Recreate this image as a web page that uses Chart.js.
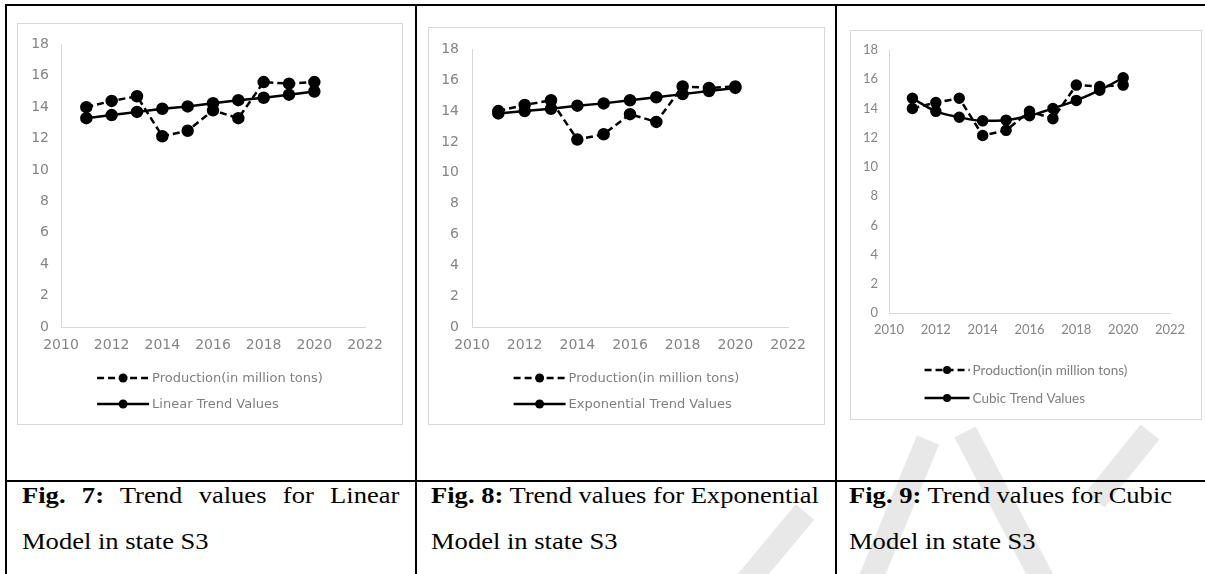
<!DOCTYPE html>
<html>
<head>
<meta charset="utf-8">
<script src="https://cdn.jsdelivr.net/npm/chart.js@4.4.1/dist/chart.umd.min.js"></script>
<style>
  body { margin: 0; background: #fff; width: 1205px; height: 574px; overflow: hidden; position: relative; }
  .rule { position: absolute; background: #000; }
  .frame { position: absolute; border: 1px solid #d9d9d9; box-sizing: border-box; background: #fff; }
  .frame canvas { display: block; }
  .cap { position: absolute; font-family: "Liberation Serif", "Times New Roman", serif; font-size: 23.5px;
         line-height: 23.5px; color: #000; white-space: nowrap; transform-origin: 0 0; transform: scaleX(1.13); }
  .just { text-align: justify; text-align-last: justify; }
  #mark { position: absolute; left: 0; top: 0; }
</style>
</head>
<body>

<!-- marca de agua gris (aproximada) -->
<svg id="mark" width="1205" height="574">
  <g stroke="#e8e8e8" stroke-width="24" fill="none">
    <line x1="740" y1="590" x2="805" y2="512"/>
    <line x1="866" y1="590" x2="928" y2="440"/>
    <line x1="965" y1="432" x2="1048" y2="590"/>
    <line x1="1095" y1="500" x2="1150" y2="432"/>
  </g>
</svg>

<!-- table rules -->
<div class="rule" style="left:5px; top:4px; width:1200px; height:2px;"></div>
<div class="rule" style="left:5px; top:4px; width:2px; height:570px;"></div>
<div class="rule" style="left:415px; top:4px; width:2px; height:570px;"></div>
<div class="rule" style="left:835px; top:4px; width:2px; height:570px;"></div>
<div class="rule" style="left:5px; top:480px; width:1200px; height:2px;"></div>

<div class="frame" style="left:17px; top:23px; width:386px; height:402px;"><canvas id="c1" width="384" height="400"></canvas></div>
<div class="frame" style="left:428px; top:27px; width:397px; height:398px;"><canvas id="c2" width="395" height="396"></canvas></div>
<div class="frame" style="left:850px; top:30px; width:352px; height:390px;"><canvas id="c3" width="350" height="388"></canvas></div>

<div class="cap just" style="left:22px; top:484px; width:334px;"><b>Fig. 7:</b> Trend values for Linear</div>
<div class="cap" style="left:22px; top:530px;">Model in state S3</div>
<div class="cap" style="left:431px; top:484px;"><b>Fig. 8:</b> Trend values for Exponential</div>
<div class="cap" style="left:431px; top:530px;">Model in state S3</div>
<div class="cap just" style="left:849px; top:484px; width:282px;"><b>Fig. 9:</b> Trend values for Cubic</div>
<div class="cap" style="left:849px; top:530px;">Model in state S3</div>

<script>
// datos
const years = [2011, 2012, 2013, 2014, 2015, 2016, 2017, 2018, 2019, 2020];
const production = [14.0, 14.4, 14.7, 12.15, 12.5, 13.8, 13.3, 15.6, 15.5, 15.6];
const linearTrend = [13.3, 13.5, 13.7, 13.9, 14.05, 14.25, 14.45, 14.6, 14.8, 15.0];
const exponentialTrend = [13.85, 14.0, 14.15, 14.35, 14.5, 14.7, 14.9, 15.1, 15.3, 15.5];
const cubicTrend = [14.7, 13.8, 13.4, 13.15, 13.2, 13.5, 14.0, 14.55, 15.25, 16.1];
const xTicks = [2010, 2012, 2014, 2016, 2018, 2020, 2022];
const yTicks = [0, 2, 4, 6, 8, 10, 12, 14, 16, 18];

const productionLabel = 'Production(in million tons)';

function toPoints(values) {
    return years.map((yr, i) => ({ x: yr, y: values[i] }));
}

// leyenda apilada: linea de muestra con punto al centro
const stackLegend = {
    id: 'stackLegend',
    afterDraw(chart, args, opts) {
        const ctx = chart.ctx;
        ctx.save();
        ctx.font = opts.font;
        const widths = chart.data.datasets.map(d => ctx.measureText(d.label).width);
        const blockW = opts.sample + opts.gap + Math.max(...widths);
        const x0 = chart.width / 2 - blockW / 2 + opts.shift;
        chart.data.datasets.forEach((d, i) => {
            const y = opts.top + i * opts.row;
            ctx.strokeStyle = '#000';
            ctx.lineWidth = d.borderWidth;
            ctx.setLineDash(d.borderDash || []);
            ctx.beginPath();
            ctx.moveTo(x0, y);
            ctx.lineTo(x0 + opts.sample, y);
            ctx.stroke();
            ctx.setLineDash([]);
            ctx.fillStyle = '#000';
            ctx.beginPath();
            ctx.arc(x0 + opts.sample / 2, y, opts.dot, 0, Math.PI * 2);
            ctx.fill();
            ctx.fillStyle = opts.color;
            ctx.textBaseline = 'middle';
            ctx.fillText(d.label, x0 + opts.sample + opts.gap, y + 1);
        });
        ctx.restore();
    }
};

function makeChart(id, trendLabel, trendValues, g) {
    const tickFont = { family: g.family, size: g.tickSize };
    return new Chart(document.getElementById(id), {
        type: 'line',
        data: {
            datasets: [
                {
                    label: productionLabel,
                    data: toPoints(production),
                    borderColor: '#000',
                    backgroundColor: '#000',
                    pointBackgroundColor: '#000',
                    borderWidth: 2.5,
                    borderDash: [7, 4],
                    pointRadius: g.dot,
                    tension: 0
                },
                {
                    label: trendLabel,
                    data: toPoints(trendValues),
                    borderColor: '#000',
                    backgroundColor: '#000',
                    pointBackgroundColor: '#000',
                    borderWidth: 2.5,
                    pointRadius: g.dot,
                    cubicInterpolationMode: g.smooth ? 'monotone' : 'default',
                    tension: g.smooth ? 0.4 : 0
                }
            ]
        },
        options: {
            responsive: false,
            animation: false,
            devicePixelRatio: 1,
            layout: { padding: { left: 0, right: g.padRight, top: g.padTop, bottom: g.padBottom } },
            plugins: {
                legend: { display: false },
                tooltip: { enabled: false },
                stackLegend: {
                    font: g.legendSize + 'px ' + g.family,
                    color: '#7f7f7f',
                    top: g.legendTop,
                    row: g.legendRow,
                    sample: g.sample,
                    gap: 3,
                    dot: g.dot - 0.5,
                    shift: g.legendShift
                }
            },
            scales: {
                x: {
                    type: 'linear',
                    min: 2010,
                    max: 2022,
                    afterBuildTicks: s => { s.ticks = xTicks.map(v => ({ value: v })); },
                    afterFit: s => { s.height = 30; },
                    grid: { display: false, drawTicks: false },
                    border: { display: true, color: '#d9d9d9', width: 1 },
                    ticks: { font: tickFont, color: '#858585', padding: g.xPad, maxRotation: 0, callback: v => String(v) }
                },
                y: {
                    min: 0,
                    max: 18,
                    afterBuildTicks: s => { s.ticks = yTicks.map(v => ({ value: v })); },
                    afterFit: s => { s.width = g.yWidth; },
                    grid: { display: false, drawTicks: false },
                    border: { display: true, color: '#d9d9d9', width: 1 },
                    ticks: { font: tickFont, color: '#858585', padding: g.yPad, callback: v => String(v) }
                }
            }
        },
        plugins: [stackLegend]
    });
}

makeChart('c1', 'Linear Trend Values', linearTrend, {
    family: '"DejaVu Sans"', tickSize: 14, legendSize: 13,
    padTop: 17, padRight: 37, padBottom: 67, yWidth: 43, xPad: 10, yPad: 12,
    dot: 5, legendTop: 354, legendRow: 26, sample: 52, legendShift: 0
});
makeChart('c2', 'Exponential Trend Values', exponentialTrend, {
    family: '"DejaVu Sans"', tickSize: 14, legendSize: 13,
    padTop: 17, padRight: 36, padBottom: 67, yWidth: 43, xPad: 10, yPad: 13,
    dot: 5, legendTop: 350, legendRow: 26, sample: 52, legendShift: 0
});
makeChart('c3', 'Cubic Trend Values', cubicTrend, {
    family: 'Lato', tickSize: 13, legendSize: 13.5,
    padTop: 19, padRight: 31, padBottom: 76, yWidth: 38, xPad: 9, yPad: 11,
    dot: 4.5, legendTop: 339, legendRow: 28, sample: 45, legendShift: 0, smooth: true
});
</script>
</body>
</html>
